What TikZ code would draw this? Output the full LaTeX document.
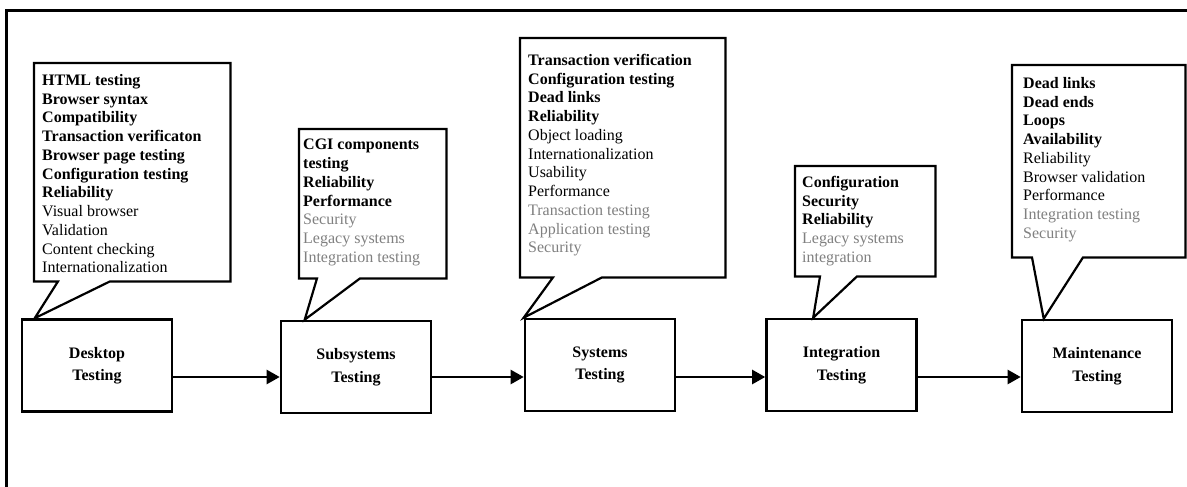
\documentclass[tikz,border=0pt]{standalone}
\usepackage{fontspec}
\setmainfont{Liberation Serif}
\usetikzlibrary{arrows.meta,calc}
\definecolor{softgray}{RGB}{128,128,128}
\tikzset{
  stage/.style={draw, line width=2.6pt, minimum width=150pt, minimum height=92pt,
    inner sep=0pt, align=center, font=\fontsize{16}{22.5}\selectfont\bfseries},
  balloon/.style={line width=2.2pt, fill=white, line join=miter},
  area/.style={inner sep=0pt, anchor=north west},
  items/.style={anchor=north west, inner sep=0pt, align=left,
    font=\fontsize{16}{18.75}\selectfont},
  flow/.style={line width=2.4pt, -{Triangle[length=13pt,width=14pt]}},
  frame/.style={line width=3pt}
}
\newcommand{\gr}[1]{\textcolor{softgray}{#1}}
\begin{document}
\begin{tikzpicture}[x=1pt,y=-1pt]
\useasboundingbox (0,0) rectangle (1187,487);
\fill[white] (0,0) rectangle (1187,487);
\coordinate (fa) at (1187,11);
\coordinate (fb) at (6,11);
\coordinate (fc) at (6,487);
\draw[frame] (fa) -- (fb) -- (fc);

% stage boxes
\node[stage] (d) at (97,365.5) {Desktop\\Testing};
\node[stage] (s) at (356,367) {Subsystems\\Testing};
\node[stage] (y) at (600,365) {Systems\\Testing};
\node[stage] (i) at (841.5,365) {Integration\\Testing};
\node[stage] (m) at (1097,366) {Maintenance\\Testing};

% arrows
\coordinate (ay) at (0,377);
\draw[flow] (d.east |- ay) -- (s.west |- ay);
\draw[flow] (s.east |- ay) -- (y.west |- ay);
\draw[flow] (y.east |- ay) -- (i.west |- ay);
\draw[flow] (i.east |- ay) -- (m.west |- ay);

% callout areas
\node[area, minimum width=196pt, minimum height=218pt] (c1) at (34,63) {};
\node[area, minimum width=147pt, minimum height=149pt] (c2) at (299,129) {};
\node[area, minimum width=205pt, minimum height=239pt] (c3) at (520,38) {};
\node[area, minimum width=140pt, minimum height=110pt] (c4) at (795,166) {};
\node[area, minimum width=173pt, minimum height=192pt] (c5) at (1012,65) {};

% pointer tips
\coordinate (t1) at ($(d.north west)+(14,0)$);
\coordinate (t2) at ($(s.north west)+(25,0)$);
\coordinate (t3) at ($(y.north west)+(0,0)$);
\coordinate (t4) at ($(i.north west)+(48,0)$);
\coordinate (t5) at ($(m.north west)+(23,0)$);

\draw[balloon] (c1.north west) -- (c1.north east) -- (c1.south east)
  -- ($(c1.south west)+(76,0)$) -- (t1) -- ($(c1.south west)+(24,0)$) -- (c1.south west) -- cycle;
\draw[balloon] (c2.north west) -- (c2.north east) -- (c2.south east)
  -- ($(c2.south west)+(61,0)$) -- (t2) -- ($(c2.south west)+(18,0)$) -- (c2.south west) -- cycle;
\draw[balloon] (c3.north west) -- (c3.north east) -- (c3.south east)
  -- ($(c3.south west)+(82,0)$) -- (t3) -- ($(c3.south west)+(33,0)$) -- (c3.south west) -- cycle;
\draw[balloon] (c4.north west) -- (c4.north east) -- (c4.south east)
  -- ($(c4.south west)+(62,0)$) -- (t4) -- ($(c4.south west)+(25,0)$) -- (c4.south west) -- cycle;
\draw[balloon] (c5.north west) -- (c5.north east) -- (c5.south east)
  -- ($(c5.south west)+(71,0)$) -- (t5) -- ($(c5.south west)+(20,0)$) -- (c5.south west) -- cycle;

% callout texts
\node[items] (l1) at (42,74) {\textbf{HTML testing}\\\textbf{Browser syntax}\\\textbf{Compatibility}\\
  \textbf{Transaction verificaton}\\\textbf{Browser page testing}\\\textbf{Configuration testing}\\
  \textbf{Reliability}\\Visual browser\\Validation\\Content checking\\Internationalization};
\node[items] (l2) at (303,139) {\textbf{CGI components}\\\textbf{testing}\\\textbf{Reliability}\\
  \textbf{Performance}\\\gr{Security}\\\gr{Legacy systems}\\\gr{Integration testing}};
\node[items] (l3) at (528,54) {\textbf{Transaction verification}\\\textbf{Configuration testing}\\
  \textbf{Dead links}\\\textbf{Reliability}\\Object loading\\Internationalization\\Usability\\
  Performance\\\gr{Transaction testing}\\\gr{Application testing}\\\gr{Security}};
\node[items] (l4) at (802,176) {\textbf{Configuration}\\\textbf{Security}\\\textbf{Reliability}\\
  \gr{Legacy systems}\\\gr{integration}};
\node[items] (l5) at (1023,77) {\textbf{Dead links}\\\textbf{Dead ends}\\\textbf{Loops}\\
  \textbf{Availability}\\Reliability\\Browser validation\\Performance\\
  \gr{Integration testing}\\\gr{Security}};
\end{tikzpicture}
\end{document}
